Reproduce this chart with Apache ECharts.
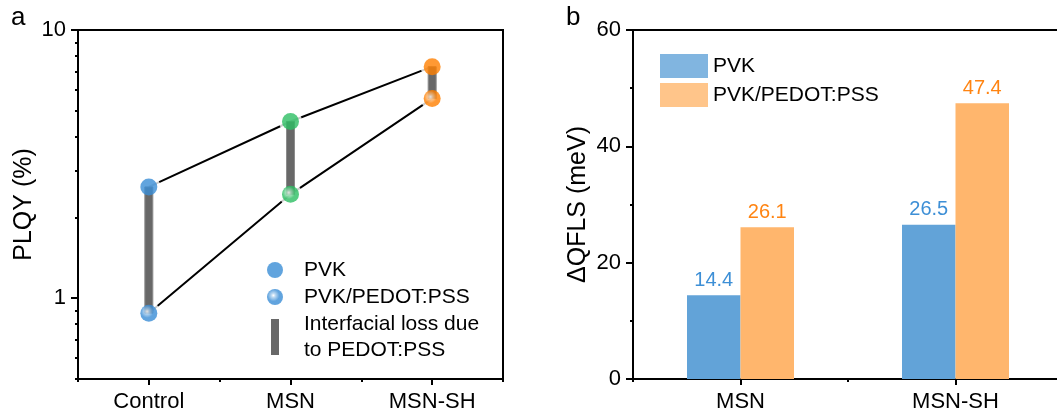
<!DOCTYPE html>
<html>
<head>
<meta charset="utf-8">
<script src="https://cdn.jsdelivr.net/npm/echarts@6/dist/echarts.min.js"></script>
<style>
  html, body { margin: 0; padding: 0; background: #fff; }
  #chart { width: 1057px; height: 414px; }
</style>
</head>
<body>
<div id="chart"></div>
<script>
// Panel a: PLQY of each film, bare PVK vs PVK on PEDOT:PSS (log scale)
const samples = ['Control', 'MSN', 'MSN-SH'];
const plqyPVK = [2.6, 4.56, 7.3];
const plqyPEDOT = [0.88, 2.44, 5.55];
const sampleColors = ['#3a8dd6', '#2dbe63', '#ff7f00'];
const plqyMajorTicks = [1, 10];
const plqyMinorTicks = [0.5, 0.6, 0.7, 0.8, 0.9, 2, 3, 4, 5, 6, 7, 8, 9];

// Panel b: quasi-Fermi level splitting gain
const qflsSamples = ['MSN', 'MSN-SH'];
const qflsPVK = [14.4, 26.5];
const qflsPEDOT = [26.1, 47.4];
const qflsTicks = [0, 20, 40, 60];

const FONT = "'Liberation Sans', Arial, Helvetica, sans-serif";
const lossName = 'Interfacial loss due\nto PEDOT:PSS';
const barBlue = '#62a3d8', barOrange = '#ffb66d';
const labelBlue = '#3d8fd6', labelOrange = '#ff8412';

function mix(hex, t) {
  const n = parseInt(hex.slice(1), 16);
  const c = [(n >> 16) & 255, (n >> 8) & 255, n & 255].map(v => Math.round(v + (255 - v) * t));
  return 'rgb(' + c.join(',') + ')';
}
// glossy sphere fill for the PEDOT:PSS markers
function sphere(base) {
  return {
    type: 'radial', x: 0.4, y: 0.4, r: 0.62,
    colorStops: [
      { offset: 0, color: '#ffffff' },
      { offset: 0.22, color: mix(base, 0.55) },
      { offset: 0.6, color: base },
      { offset: 1, color: base }
    ]
  };
}

const log10 = Math.log10;
const yMinA = 0.5, yMaxA = 10;

const chart = echarts.init(document.getElementById('chart'), null, { renderer: 'canvas' });

const axisLine = { show: true, onZero: false, lineStyle: { color: '#000', width: 2 } };
const hidden = { show: false };
const noLine = { show: false, onZero: false };

chart.setOption({
  animation: false,
  textStyle: { fontFamily: FONT, color: '#000' },
  title: [
    { text: 'a', left: 11, top: 5, padding: 0, textStyle: { fontSize: 26, fontWeight: 'normal', color: '#000', fontFamily: FONT } },
    { text: 'b', left: 566, top: 5, padding: 0, textStyle: { fontSize: 26, fontWeight: 'normal', color: '#000', fontFamily: FONT } }
  ],
  grid: [
    { left: 78, top: 30, width: 425, height: 349, show: true, borderColor: '#000', borderWidth: 2, outerBoundsMode: 'none', containLabel: false },
    { left: 633, top: 30, width: 430, height: 349, show: true, borderColor: '#000', borderWidth: 2, outerBoundsMode: 'none', containLabel: false }
  ],
  legend: [
    {
      orient: 'vertical', left: 267, top: 258, padding: 0, itemGap: 3,
      itemWidth: 48, itemHeight: 16, selectedMode: false,
      textStyle: { fontSize: 21, lineHeight: 24, color: '#000', fontFamily: FONT },
      data: [
        { name: 'PVK', icon: 'circle', itemStyle: { color: sampleColors[0] } },
        { name: 'PVK/PEDOT:PSS', icon: 'circle', itemStyle: { color: sphere(sampleColors[0]) } }
      ]
    },
    {
      orient: 'vertical', left: 271, top: 311, padding: 0,
      itemWidth: 48, itemHeight: 36, selectedMode: false,
      textStyle: { fontSize: 21, lineHeight: 26, color: '#000', fontFamily: FONT },
      data: [{ name: lossName, icon: 'path://M0,0L8,0L8,36L0,36Z', itemStyle: { color: '#686868' } }]
    },
    {
      orient: 'vertical', left: 660, top: 54, padding: 0, itemGap: 5,
      itemWidth: 48, itemHeight: 24, selectedMode: false,
      textStyle: { fontSize: 21, color: '#000', fontFamily: FONT },
      data: [
        { name: 'PVK', icon: 'rect', itemStyle: { color: barBlue } },
        { name: 'PVK/PEDOT:PSS', icon: 'rect', itemStyle: { color: barOrange } }
      ]
    }
  ],
  xAxis: [
    { // panel a categories, ticks under each sample
      type: 'category', gridIndex: 0, position: 'bottom', data: samples,
      axisLine: axisLine,
      axisTick: { show: true, alignWithLabel: true, length: 6, lineStyle: { color: '#000', width: 2 } },
      axisLabel: { fontSize: 22, color: '#000', margin: 12 },
      splitLine: hidden
    },
    { // panel a boundary ticks
      type: 'category', gridIndex: 0, position: 'bottom', data: samples,
      axisLine: noLine, axisLabel: hidden, splitLine: hidden,
      axisTick: { show: true, length: 3, lineStyle: { color: '#000', width: 2 } }
    },
    { // panel b categories
      type: 'category', gridIndex: 1, position: 'bottom', data: qflsSamples,
      axisLine: axisLine,
      axisTick: { show: true, alignWithLabel: true, length: 6, lineStyle: { color: '#000', width: 2 } },
      axisLabel: { fontSize: 22, color: '#000', margin: 12 },
      splitLine: hidden
    },
    { // panel b boundary ticks
      type: 'category', gridIndex: 1, position: 'bottom', data: qflsSamples,
      axisLine: noLine, axisLabel: hidden, splitLine: hidden,
      axisTick: { show: true, length: 3, lineStyle: { color: '#000', width: 2 } }
    }
  ],
  yAxis: [
    { // panel a data axis (log)
      type: 'log', logBase: 10, gridIndex: 0, position: 'left', min: yMinA, max: yMaxA,
      name: 'PLQY (%)', nameLocation: 'middle', nameGap: 41,
      nameTextStyle: { fontSize: 25, color: '#000', fontFamily: FONT },
      axisLine: axisLine, axisTick: hidden, axisLabel: hidden, splitLine: hidden, minorTick: hidden
    },
    { // panel a decade ticks and labels, placed in log10 units
      type: 'value', gridIndex: 0, position: 'left', min: log10(yMinA), max: log10(yMaxA),
      axisLine: noLine, splitLine: hidden,
      axisTick: { show: true, length: 7, customValues: plqyMajorTicks.map(log10), lineStyle: { color: '#000', width: 2 } },
      axisLabel: {
        show: true, fontSize: 22, color: '#000', margin: 12,
        customValues: plqyMajorTicks.map(log10),
        formatter: v => String(Math.round(Math.pow(10, v)))
      }
    },
    { // panel a minor ticks
      type: 'value', gridIndex: 0, position: 'left', min: log10(yMinA), max: log10(yMaxA),
      axisLine: noLine, splitLine: hidden, axisLabel: hidden,
      axisTick: { show: true, length: 3, customValues: plqyMinorTicks.map(log10), lineStyle: { color: '#000', width: 2 } }
    },
    { // panel b
      type: 'value', gridIndex: 1, position: 'left', min: qflsTicks[0], max: qflsTicks[qflsTicks.length - 1], interval: 20,
      name: 'ΔQFLS (meV)', nameLocation: 'middle', nameGap: 42,
      nameTextStyle: { fontSize: 25, color: '#000', fontFamily: FONT },
      axisLine: axisLine,
      axisTick: { show: true, length: 7, lineStyle: { color: '#000', width: 2 } },
      minorTick: { show: true, splitNumber: 2, length: 3, lineStyle: { color: '#000', width: 2 } },
      axisLabel: { fontSize: 22, color: '#000', margin: 12 },
      splitLine: hidden, minorSplitLine: hidden
    }
  ],
  series: [
    // connecting lines
    {
      type: 'line', name: 'PVK trend', xAxisIndex: 0, yAxisIndex: 0, z: 1,
      data: plqyPVK, symbol: 'none', silent: true,
      lineStyle: { color: '#000', width: 2 }
    },
    {
      type: 'line', name: 'PEDOT trend', xAxisIndex: 0, yAxisIndex: 0, z: 1,
      data: plqyPEDOT, symbol: 'none', silent: true,
      lineStyle: { color: '#000', width: 2 }
    },
    // white halos that open a gap between the lines and the dots
    {
      type: 'scatter', name: 'halo', xAxisIndex: 0, yAxisIndex: 0, z: 2, silent: true,
      symbolSize: 23, itemStyle: { color: '#fff' },
      data: plqyPVK.map((v, i) => [i, v]).concat(plqyPEDOT.map((v, i) => [i, v]))
    },
    // interfacial loss bar between the two values of each sample
    {
      type: 'custom', name: lossName, xAxisIndex: 0, yAxisIndex: 0, z: 3, silent: true,
      itemStyle: { color: '#686868' },
      data: samples.map((s, i) => [i, plqyPVK[i], plqyPEDOT[i]]),
      encode: { x: 0, y: [1, 2] },
      renderItem: function (params, api) {
        const top = api.coord([api.value(0), api.value(1)]);
        const bot = api.coord([api.value(0), api.value(2)]);
        const w = 8;
        return {
          type: 'rect',
          shape: { x: top[0] - w / 2, y: top[1], width: w, height: bot[1] - top[1] },
          style: { fill: '#686868', stroke: '#8c8c8c', lineWidth: 1 }
        };
      }
    },
    {
      type: 'scatter', name: 'PVK', xAxisIndex: 0, yAxisIndex: 0, z: 4,
      symbol: 'circle', symbolSize: 17, itemStyle: { color: sampleColors[0] },
      data: plqyPVK.map((v, i) => ({ value: v, itemStyle: { color: sampleColors[i] } }))
    },
    {
      type: 'scatter', name: 'PVK/PEDOT:PSS', xAxisIndex: 0, yAxisIndex: 0, z: 4,
      symbol: 'circle', symbolSize: 17, itemStyle: { color: sphere(sampleColors[0]) },
      data: plqyPEDOT.map((v, i) => ({ value: v, itemStyle: { color: sphere(sampleColors[i]) } }))
    },
    // panel b bars
    {
      type: 'bar', name: 'PVK', xAxisIndex: 2, yAxisIndex: 3,
      data: qflsPVK, barWidth: 53.5, barGap: '0%',
      itemStyle: { color: barBlue },
      label: { show: true, position: 'top', distance: 5, fontSize: 20, color: labelBlue, fontFamily: FONT, formatter: p => p.value.toFixed(1) }
    },
    {
      type: 'bar', name: 'PVK/PEDOT:PSS', xAxisIndex: 2, yAxisIndex: 3,
      data: qflsPEDOT, barWidth: 53.5, barGap: '0%',
      itemStyle: { color: barOrange },
      label: { show: true, position: 'top', distance: 5, fontSize: 20, color: labelOrange, fontFamily: FONT, formatter: p => p.value.toFixed(1) }
    }
  ]
});
</script>
</body>
</html>
